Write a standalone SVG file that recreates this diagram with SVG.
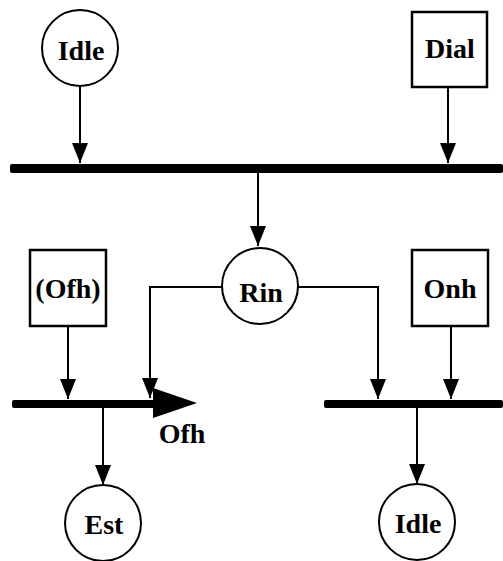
<svg xmlns="http://www.w3.org/2000/svg" width="503" height="561" viewBox="0 0 503 561">
  <style>
    .place { fill: #fff; stroke: #000; stroke-width: 2; }
    .trans { fill: #fff; stroke: #000; stroke-width: 2.5; }
    .bar { fill: #000; }
    .arc { fill: none; stroke: #000; stroke-width: 2; }
    .lbl { font-family: "Liberation Serif", "Times New Roman", serif; font-size: 28px; font-weight: bold; fill: #000; text-anchor: middle; }
  </style>
  <defs>
    <!-- filled arrowhead, drawn pointing along +x so orient="auto" follows the line -->
    <marker id="head" markerUnits="userSpaceOnUse" markerWidth="20" markerHeight="16" viewBox="0 0 20 16" refX="20" refY="8" orient="auto">
      <path d="M0,0 L20,8 L0,16 Z" fill="#000"/>
    </marker>
  </defs>
  <rect width="503" height="561" fill="#fff"/>

  <!-- synchronisation bars -->
  <g id="bars">
    <rect class="bar" x="10" y="164" width="493" height="9" rx="2"/>
    <rect class="bar" x="12" y="400" width="146" height="8" rx="2"/>
    <path class="bar" d="M153,388 L197,403 L153,418 Z"/>
    <rect class="bar" x="324" y="400" width="179" height="8" rx="2"/>
  </g>

  <!-- connectors -->
  <g id="connectors">
    <line class="arc" x1="80" y1="87" x2="80" y2="163" marker-end="url(#head)"/>
    <line class="arc" x1="448" y1="87" x2="448" y2="163" marker-end="url(#head)"/>
    <line class="arc" x1="258" y1="173" x2="258" y2="246" marker-end="url(#head)"/>
    <polyline class="arc" points="222,287 150,287 150,398" marker-end="url(#head)"/>
    <polyline class="arc" points="298,287 378,287 378,399" marker-end="url(#head)"/>
    <line class="arc" x1="68" y1="326" x2="68" y2="399" marker-end="url(#head)"/>
    <line class="arc" x1="451" y1="326" x2="451" y2="399" marker-end="url(#head)"/>
    <line class="arc" x1="103" y1="408" x2="103" y2="485" marker-end="url(#head)"/>
    <line class="arc" x1="417" y1="408" x2="417" y2="484" marker-end="url(#head)"/>
  </g>

  <g id="idle-top">
    <circle class="place" cx="80" cy="48" r="38"/>
    <text class="lbl" x="81" y="60">Idle</text>
  </g>
  <g id="dial">
    <rect class="trans" x="412" y="12" width="75" height="75"/>
    <text class="lbl" x="450" y="58">Dial</text>
  </g>
  <g id="rin">
    <circle class="place" cx="260" cy="286" r="38"/>
    <text class="lbl" x="261" y="302">Rin</text>
  </g>
  <g id="ofh-box">
    <rect class="trans" x="30" y="250" width="76" height="76"/>
    <text class="lbl" x="68" y="298">(Ofh)</text>
  </g>
  <g id="onh">
    <rect class="trans" x="412" y="250" width="76" height="76"/>
    <text class="lbl" x="450" y="298">Onh</text>
  </g>
  <g id="ofh-label">
    <text class="lbl" x="182" y="443">Ofh</text>
  </g>
  <g id="est">
    <circle class="place" cx="103" cy="523" r="38"/>
    <text class="lbl" x="104" y="534">Est</text>
  </g>
  <g id="idle-bottom">
    <circle class="place" cx="417" cy="522" r="38"/>
    <text class="lbl" x="418" y="533">Idle</text>
  </g>
</svg>
